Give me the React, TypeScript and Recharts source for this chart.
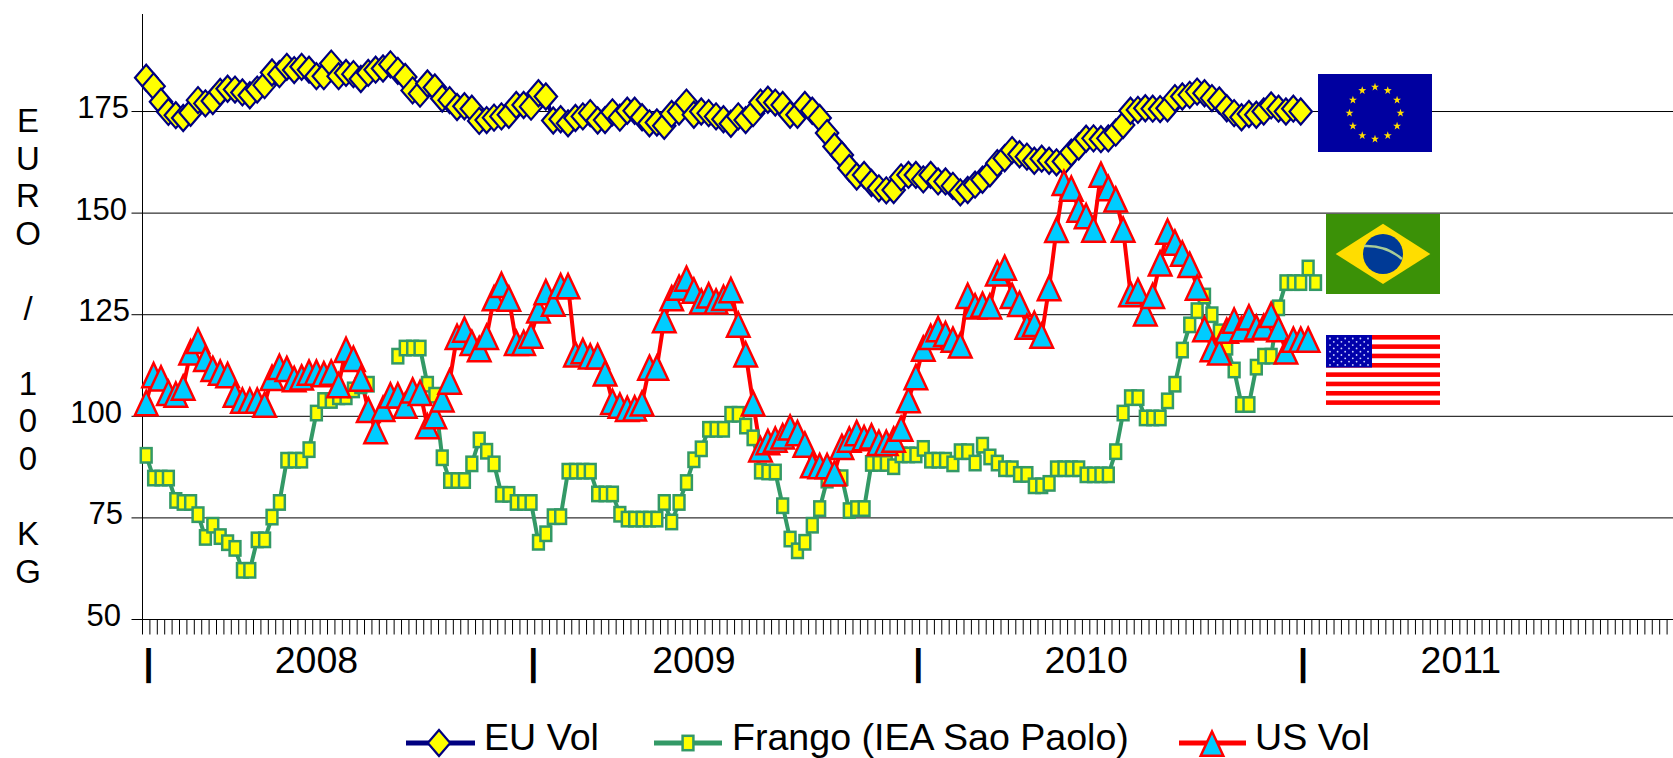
// Weekly price comparison: EU, Brazil (Frango) and US, euro per 100 kg
import { ComposedChart, Line, XAxis, YAxis, CartesianGrid, Legend } from 'recharts';

const FONT = '"Liberation Sans", Arial, sans-serif';
const WIDTH = 1673;
const HEIGHT = 758;

const euVol = [
  183.3, 181.2, 177.4, 174.9, 174.1, 173.4, 174.7, 177.8, 177, 177.6, 179.8, 180.6, 180.4, 179.7, 179, 180.4,
  181.5, 184.6, 184.2, 186, 185.2, 186, 185.3, 183.7, 183.7, 186.8, 183.7, 184.5, 184.2, 183, 184.5, 185.3,
  185.6, 186.6, 185, 183.5, 180.2, 179.4, 181.9, 180.9, 178.2, 177.8, 176.1, 176.3, 175.7, 172.7, 172.9, 173.5,
  173.8, 174.2, 176.6, 176.6, 176.2, 179.5, 178.7, 172.8, 173.1, 172.1, 173.4, 173.8, 174.6, 172.8, 172.9, 174.8,
  173.5, 175.2, 175.2, 173.6, 172.1, 172.3, 171.5, 174.4, 175, 177.2, 174.2, 175, 174.6, 173.8, 173.1, 172,
  173.8, 172.9, 174.6, 177.2, 177.9, 177.2, 176.6, 174.2, 174.2, 176.6, 175.2, 173.4, 169.7, 166.4, 164.3, 161.1,
  159, 159.4, 157.4, 156.1, 155.6, 155.7, 158.8, 159.4, 159.4, 158.3, 159.4, 157.8, 157.8, 156.7, 155.1, 155.7,
  157, 158.2, 159.8, 162.3, 163.5, 165.5, 164.5, 163.9, 162.9, 163.4, 162.9, 162.5, 162.7, 164.9, 166.4, 168.3,
  168.4, 168.2, 168.4, 169.8, 171.7, 175.2, 175.4, 175.8, 175.7, 175.6, 175.8, 178.3, 178.7, 179.1, 179.9, 179.5,
  178.3, 177.7, 175.8, 174.6, 173.6, 174.4, 174.2, 175, 176.5, 175.7, 175, 175.7, 175,
];

const frango = [
  90.4, 84.8, 84.8, 84.8, 79.3, 78.8, 78.8, 75.8, 70.2, 73.2, 70.4, 68.9, 67.5, 62.1, 62.1, 69.6,
  69.6, 75.2, 78.8, 89.2, 89.2, 89.2, 91.8, 100.8, 103.9, 103.9, 104.8, 104.8, 106.5, 107.5, 107.9, null,
  null, null, 114.8, 116.8, 116.8, 116.8, 107.9, 105.2, 89.8, 84.2, 84.2, 84.2, 88.3, 94.2, 91.4, 88.3,
  80.8, 80.8, 78.8, 78.8, 78.8, 69, 71.1, 75.3, 75.3, 86.5, 86.5, 86.5, 86.5, 80.9, 80.9, 80.9,
  75.9, 74.7, 74.7, 74.7, 74.7, 74.7, 78.8, 74, 78.8, 83.7, 89.3, 92, 96.8, 96.8, 96.8, 100.5,
  100.5, 97.6, 94.7, 86.5, 86.3, 86.3, 78, 69.8, 66.9, 69, 73.2, 77.3, 84.3, 84.9, 84.9, 76.8,
  77.3, 77.3, 88.4, 88.4, 88.4, 87.6, 90.5, 90.5, 90.5, 92.1, 89.2, 89.2, 89.2, 88.3, 91.3, 91.3,
  88.5, 92.9, 90, 88.5, 87.1, 87.1, 85.7, 85.7, 82.9, 82.9, 83.5, 87.1, 87.1, 87.1, 87.1, 85.6,
  85.6, 85.6, 85.6, 91.3, 100.8, 104.6, 104.6, 99.6, 99.6, 99.6, 103.8, 107.9, 116.3, 122.5, 126, 129.6,
  125, 120.8, 117, 111.4, 102.9, 102.9, 112.1, 114.8, 114.8, 126.7, 132.9, 132.9, 132.9, 136.5, 132.9,
];

const usVol = [
  103.4, 110.3, 109.5, 105.9, 105.5, 107.2, 115.9, 118.7, 114.3, 111.8, 110.9, 110.3, 105.5, 104, 104, 104,
  103, 109.6, 112.3, 111.8, 109.3, 109.7, 110.9, 110.9, 110.5, 110.9, 107.8, 116.5, 114.3, 109.4, 101.7, 96.5,
  102, 105.3, 105.3, 102.8, 106.5, 105.9, 97.7, 100.2, 104.3, 108.7, 119.7, 121.5, 118.2, 116.7, 119.7, 129.2,
  132.5, 129.1, 118.2, 118.2, 120, 126.2, 130.7, 127.9, 132.2, 132.2, 115.4, 116.2, 114.9, 114.9, 110.7, 103.7,
  102.8, 102, 102.1, 103.3, 112.1, 112.1, 123.8, 129.2, 131.8, 134, 131.1, 128.4, 129.9, 128.4, 129.3, 131.2,
  122.7, 115.4, 103.3, 92, 93.8, 94.4, 95.2, 97.4, 96, 93.2, 88.1, 87.9, 87.9, 86.1, 92.6, 94.4,
  96, 94.8, 95.2, 93.6, 93.6, 94.4, 97.1, 104.1, 109.8, 116.8, 119.7, 121.6, 120.4, 119, 117.6, 129.8,
  127.2, 127.6, 127.2, 135.3, 136.7, 129.8, 127.8, 122.2, 122.9, 120, 131.7, 146, 157.6, 156.2, 151, 149.4,
  146.1, 159.6, 156.3, 153.5, 146.1, 130.2, 131, 125.5, 129.8, 137.8, 145.6, 142.9, 140.2, 137.4, 131.8, 121.6,
  116.7, 115.9, 121.2, 123.7, 121.6, 124.5, 122, 122.2, 125.1, 121.6, 116.1, 119, 119, 119,
];

const yTicks = [50, 75, 100, 125, 150, 175];
const yTickRight: Record<number, number> = { 50: 121, 75: 123, 100: 122, 125: 130, 150: 127, 175: 129 };
const yearLabels: Record<number, string> = { 23: '2008', 74: '2009', 127: '2010', 178: '2011' };
const yearBreaks = [0, 52, 104, 156];
const titleLetters = ['E', 'U', 'R', 'O', '', '/', '', '1', '0', '0', '', 'K', 'G'];

const WEEK_COUNT = 207;
const weekIdx = Array.from({ length: WEEK_COUNT }, (_, i) => i);
const weekEdges = weekIdx.map(i => i - 0.5);
const rows = weekIdx.map(i => ({
  week: i,
  eu: euVol[i] ?? null,
  frango: frango[i] ?? null,
  us: usVol[i] ?? null,
}));

function diamondShape(cx: number, cy: number) {
  return <polygon points={`${cx - 11.2},${cy} ${cx},${cy - 13} ${cx + 11.2},${cy} ${cx},${cy + 13}`} fill="#FFFF00" stroke="#000080" strokeWidth={2.2} />;
}

function squareShape(cx: number, cy: number) {
  return <rect x={cx - 5.4} y={cy - 7.2} width={10.8} height={14.4} fill="#FFFF00" stroke="#339966" strokeWidth={2.5} />;
}

function triangleShape(cx: number, cy: number) {
  return <polygon points={`${cx},${cy - 11.5} ${cx + 11.3},${cy + 12.7} ${cx - 11.3},${cy + 12.7}`} fill="#00CCFF" stroke="#FF0000" strokeWidth={2.5} />;
}

const makeDot = (shape: (cx: number, cy: number) => any) => (p: any) => {
  if (p.cy == null || p.value == null) return <g key={p.key ?? p.index} />;
  return <g key={p.key ?? p.index}>{shape(p.cx, p.cy)}</g>;
};

function YTick({ y, payload }: any) {
  return (
    <text x={yTickRight[payload.value]} y={y + 6.5} textAnchor="end" fontSize={31} fontFamily={FONT} fill="#000">
      {payload.value}
    </text>
  );
}

function XTick({ x, y, index }: any) {
  const label = yearLabels[index];
  if (label) {
    // 2011 sits a little left of its week in the reference
    const nudge = label === '2011' ? 1 : 3.7;
    return <text x={x + nudge} y={y + 36.5} textAnchor="middle" fontSize={37.5} fontFamily={FONT} fill="#000">{label}</text>;
  }
  if (yearBreaks.includes(index)) {
    return <text x={x + 6} y={y + 38} textAnchor="middle" fontSize={36} fontWeight="bold" fontFamily={FONT} fill="#000">|</text>;
  }
  return <g />;
}

const legendItems = [
  { name: 'EU Vol', color: '#000080', x1: 406, x2: 475, mark: 439, textX: 484, shape: diamondShape },
  { name: 'Frango (IEA Sao Paolo)', color: '#339966', x1: 654, x2: 722, mark: 688, textX: 732, shape: squareShape },
  { name: 'US Vol', color: '#FF0000', x1: 1179, x2: 1246, mark: 1212, textX: 1255, shape: triangleShape },
];

function LegendRow() {
  return (
    <svg width={WIDTH} height={78} style={{ display: 'block' }}>
      {legendItems.map(it => (
        <g key={it.name}>
          <line x1={it.x1} x2={it.x2} y1={63} y2={63} stroke={it.color} strokeWidth={5} />
          {it.shape(it.mark, 63)}
          <text x={it.textX} y={70} fontSize={37.6} fontFamily={FONT} fill="#000">{it.name}</text>
        </g>
      ))}
    </svg>
  );
}

function star(cx: number, cy: number, r: number) {
  const pts = [];
  for (let k = 0; k < 10; k++) {
    const rad = k % 2 === 0 ? r : r * 0.4;
    const a = -Math.PI / 2 + (k * Math.PI) / 5;
    pts.push(`${cx + rad * Math.cos(a)},${cy + rad * Math.sin(a)}`);
  }
  return pts.join(' ');
}

function Flags() {
  return (
    <svg width={WIDTH} height={HEIGHT} style={{ position: 'absolute', left: 0, top: 0, pointerEvents: 'none' }}>
      {titleLetters.map((ch, i) => (
        <text key={i} x={28} y={132 + 37.55 * i} textAnchor="middle" fontSize={33} fontFamily={FONT} fill="#000">{ch}</text>
      ))}

      {/* EU */}
      <rect x={1318} y={74} width={114} height={78} fill="#0000A0" />
      {Array.from({ length: 12 }, (_, k) => {
        const a = (k * Math.PI) / 6;
        return <polygon key={k} points={star(1375 + 25.5 * Math.sin(a), 113 - 26 * Math.cos(a), 4.2)} fill="#FFDD00" />;
      })}

      {/* Brazil */}
      <rect x={1326} y={214} width={114} height={80} fill="#3B9107" />
      <polygon points="1335.7,254 1383,223.7 1430.3,254 1383,284" fill="#FFDD00" />
      <circle cx={1383} cy={254} r={20} fill="#003A96" />
      <path d="M1364,246 Q1386,245 1402,259" fill="none" stroke="#A8CC98" strokeWidth={2.5} />

      {/* USA */}
      <rect x={1326} y={335} width={114} height={70} fill="#FFFFFF" />
      {Array.from({ length: 8 }, (_, k) => (
        <rect key={k} x={1326} y={335 + k * 9.33} width={114} height={4.6} fill="#FF0000" />
      ))}
      <rect x={1326} y={335} width={46} height={32.5} fill="#0000AA" />
      {Array.from({ length: 9 }, (_, r) =>
        Array.from({ length: r % 2 === 0 ? 6 : 5 }, (_, c) => (
          <circle key={`${r}-${c}`} cx={1330 + c * 7.6 + (r % 2 === 0 ? 0 : 3.8)} cy={338.5 + r * 3.3} r={0.9} fill="#D0D8FF" />
        ))
      )}
    </svg>
  );
}

export default function App() {
  return (
    <div style={{ position: 'absolute', left: 0, top: 0, width: WIDTH, height: HEIGHT, background: '#fff', overflow: 'hidden' }}>
      <ComposedChart width={WIDTH} height={HEIGHT} data={rows} margin={{ top: 14, right: 0, bottom: 0, left: 0 }}>
        <CartesianGrid vertical={false} horizontalValues={yTicks} stroke="#000" strokeWidth={1} />
        <XAxis
          type="number"
          dataKey="week"
          domain={[-0.5, 206.3]}
          ticks={weekEdges}
          interval={0}
          tick={<XTick />}
          tickSize={15}
          tickLine={{ stroke: '#000', strokeWidth: 1 }}
          axisLine={{ stroke: '#000', strokeWidth: 1 }}
          height={138.5}
          allowDecimals
        />
        <YAxis
          type="number"
          domain={[50, 199]}
          ticks={yTicks}
          interval={0}
          width={142.5}
          tick={<YTick />}
          tickSize={11}
          tickLine={{ stroke: '#000', strokeWidth: 1 }}
          axisLine={{ stroke: '#000', strokeWidth: 1 }}
          allowDataOverflow
        />
        <Legend layout="horizontal" verticalAlign="middle" wrapperStyle={{ left: 0, top: 680, width: WIDTH, height: 78 }} content={<LegendRow />} />
        <Line dataKey="eu" name="EU Vol" stroke="#000080" strokeWidth={4} dot={makeDot(diamondShape)} activeDot={false} isAnimationActive={false} />
        <Line dataKey="frango" name="Frango (IEA Sao Paolo)" stroke="#339966" strokeWidth={4} dot={makeDot(squareShape)} activeDot={false} isAnimationActive={false} />
        <Line dataKey="us" name="US Vol" stroke="#FF0000" strokeWidth={4} dot={makeDot(triangleShape)} activeDot={false} isAnimationActive={false} />
      </ComposedChart>
      <Flags />
    </div>
  );
}
